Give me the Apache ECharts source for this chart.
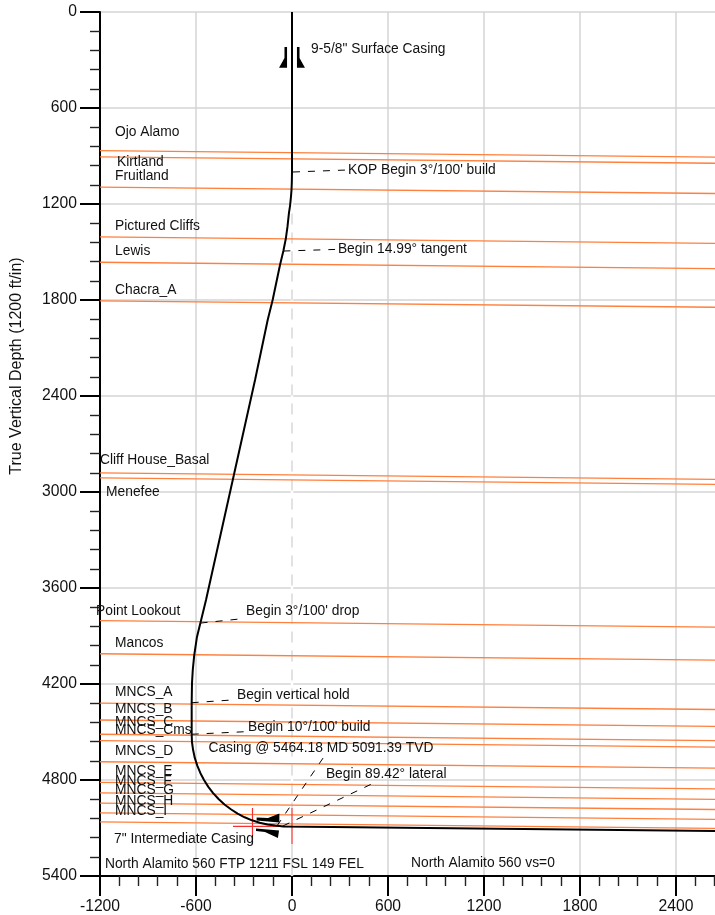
<!DOCTYPE html>
<html><head><meta charset="utf-8">
<style>html,body{margin:0;padding:0;background:#fff}#c{width:715px;height:915px}</style>
<script src="https://cdn.jsdelivr.net/npm/echarts@6/dist/echarts.min.js"></script>
</head><body><div id="c"></div>
<script>
const xTickMin = -1200, xTickMax = 3000, tvdMin = 0, tvdMax = 5400;
const formationNames = ['Ojo Alamo','Kirtland','Fruitland','Pictured Cliffs','Lewis','Chacra_A','Cliff House_Basal','Menefee','Point Lookout','Mancos','MNCS_A','MNCS_B','MNCS_C','MNCS_Cms','MNCS_D','MNCS_E','MNCS_F','MNCS_G','MNCS_H','MNCS_I'];
const formationTvdLeft  = [867,905,1094,1406,1564,1805,2881,2912,3804,4011,4319,4425,4514,4554,4686,4815,4881,4944,5006,5062];
const formationTvdRight = [911,949,1138,1450,1608,1849,2925,2956,3848,4055,4363,4469,4558,4598,4730,4859,4925,4988,5050,5106];
const formationLabelX   = [-1106,-1094,-1106,-1106,-1106,-1106,-1200,-1162,-1225,-1106,-1106,-1106,-1106,-1106,-1106,-1106,-1106,-1106,-1106,-1106];
const formationLabelTvd = [744,931,1019,1331,1488,1731,2794,2994,3737,3937,4244,4350,4431,4481,4612,4737,4800,4859,4925,4987];
const wellX   = [0,0,-1,-3,-7,-12,-19,-28,-39,-54,-75,-121,-152,-231,-537.5,-571,-594,-611,-620,-625,-627,-627,-625,-618,-607.5,-592,-573,-550,-523,-493,-459,-422,-382,-340,-296,-250,-202,-153,-104,-54,3000];
const wellTvd = [0,1000,1060,1112,1160,1210,1256,1340,1419,1494,1581,1800,1925,2300,3675,3812,3906,4019,4110,4194,4319,4514,4564,4613,4662,4710,4756,4800,4843,4882,4919,4953,4983,5010,5033,5052,5067,5078,5085,5090,5122];
const leaders = [
  [[6,1000],[331,988]],
  [[-54,1494],[269,1484]],
  [[-571,3819],[-331,3794]],
  [[-627,4317],[-377,4300]],
  [[-627,4514],[-289,4498]],
  [[-94,5087],[194,4663]],
  [[-56,5087],[498,4825]]
];
const noteTexts = ['9-5/8" Surface Casing',"KOP Begin 3°/100' build",'Begin 14.99° tangent',"Begin 3°/100' drop",'Begin vertical hold',"Begin 10°/100' build",'Casing @ 5464.18 MD 5091.39 TVD','Begin 89.42° lateral','7" Intermediate Casing','North Alamito 560 FTP 1211 FSL 149 FEL','North Alamito 560 vs=0'];
const noteX   = [119,350,287,-287,-344,-275,-522,212,-1112,-1169,744];
const noteTvd = [231,987,1481,3743,4268,4468,4603,4765,5168,5325,5318];
const formationLabelTvdAdjusted = formationLabelTvd.map(v => v + 6);
const casingShapes = [
  [[-47,219],[-31,219],[-31,348],[-81,348],[-47,288]],
  [[31,219],[47,219],[47,288],[81,348],[31,348]],
  [[-221,5034],[-150,5038],[-79,5009],[-79,5066],[-221,5053]],
  [[-225,5103],[-81,5116],[-88,5162],[-169,5125],[-225,5119]]
];
const targetCross = [
  [[-247,4975],[-247,5200]],
  [[0,4975],[0,5200]],
  [[-369,5090],[0,5090]]
];

const fontFam = '"Liberation Sans", Arial, sans-serif';
const noteFont = '13.8px ' + fontFam;
const chart = echarts.init(document.getElementById('c'), null, {renderer:'canvas'});
const line = (data, style, z, extra) => Object.assign({type:'line', data, symbol:'none', silent:true, animation:false, z, lineStyle:style}, extra||{});
const series = [];
series.push(line([[0,tvdMin],[0,tvdMax]], {color:'#ffffff', width:2.5}, 1));
series.push(line([[0,1260],[0,4975]], {color:'#d8d8d8', width:1.5, type:[11,8]}, 1));
series.push(line([[0,5200],[0,tvdMax]], {color:'#d8d8d8', width:1.5}, 1));
formationNames.forEach((n,i)=>{
  series.push(line([[xTickMin,formationTvdLeft[i]],[xTickMax,formationTvdRight[i]]], {color:'#ff7f3c', width:1.3}, 2, {name:n}));
});
targetCross.forEach(s=>series.push(line(s,{color:'#f43030',width:1.2},3)));
leaders.forEach(s=>series.push(line(s,{color:'#000',width:1,type:[7,8]},4)));
series.push(line(wellX.map((x,i)=>[x,wellTvd[i]]),{color:'#000',width:2},5,{name:'Well',smooth:false}));
series.push({type:'custom', silent:true, animation:false, z:6, clip:false, coordinateSystem:'cartesian2d',
  data:casingShapes.map((s,i)=>[s[0][0],s[0][1],i]),
  renderItem:(p,api)=>({type:'polygon', shape:{points:casingShapes[p.dataIndex].map(q=>api.coord(q))}, style:{fill:'#000'}})
});
const textSeries = (xs,ys,txts)=>({type:'custom', silent:true, animation:false, z:7, clip:false, coordinateSystem:'cartesian2d',
  data:xs.map((x,i)=>[x,ys[i]]),
  renderItem:(p,api)=>{const c=api.coord([xs[p.dataIndex],ys[p.dataIndex]]);
    return {type:'text', x:c[0], y:c[1], style:{text:txts[p.dataIndex], font:noteFont, fill:'#111', verticalAlign:'middle', align:'left'}};}
});
series.push(textSeries(formationLabelX,formationLabelTvdAdjusted,formationNames));
series.push(textSeries(noteX,noteTvd,noteTexts));

const plainLabel = v => String(v);
chart.setOption({
  animation:false, backgroundColor:'#fff',
  grid:{left:100, top:12, width:672, height:864, containLabel:false, outerBoundsMode:'none'},
  xAxis:{type:'value', min:xTickMin, max:xTickMax, interval:600, position:'bottom',
    axisLine:{show:true,onZero:false,lineStyle:{color:'#000',width:2}},
    axisTick:{show:true,length:20,inside:false,lineStyle:{color:'#000',width:2}},
    minorTick:{show:true,splitNumber:5,length:10,lineStyle:{color:'#222',width:1.4}},
    axisLabel:{show:true,margin:23,fontSize:15.7,fontFamily:fontFam,color:'#111',hideOverlap:false,showMinLabel:true,showMaxLabel:true,formatter:plainLabel},
    splitLine:{show:true,lineStyle:{color:'#d4d4d4',width:1.5}}, minorSplitLine:{show:false}},
  yAxis:{type:'value', inverse:true, min:tvdMin, max:tvdMax, interval:600, position:'left',
    axisLine:{show:true,onZero:false,lineStyle:{color:'#000',width:2}},
    axisTick:{show:true,length:20,inside:false,lineStyle:{color:'#000',width:2}},
    minorTick:{show:true,splitNumber:5,length:10,lineStyle:{color:'#222',width:1.4}},
    axisLabel:{show:true,margin:23,fontSize:15.7,fontFamily:fontFam,color:'#111',showMinLabel:true,showMaxLabel:true,padding:[2,0,0,0],formatter:plainLabel},
    splitLine:{show:true,lineStyle:{color:'#d4d4d4',width:1.5}}, minorSplitLine:{show:false}},
  graphic:[{type:'text', x:17, y:366, rotation:Math.PI/2, style:{text:'True Vertical Depth (1200 ft/in)', font:'16px '+fontFam, fill:'#111', align:'center', verticalAlign:'middle'}}],
  series
});
</script></body></html>
